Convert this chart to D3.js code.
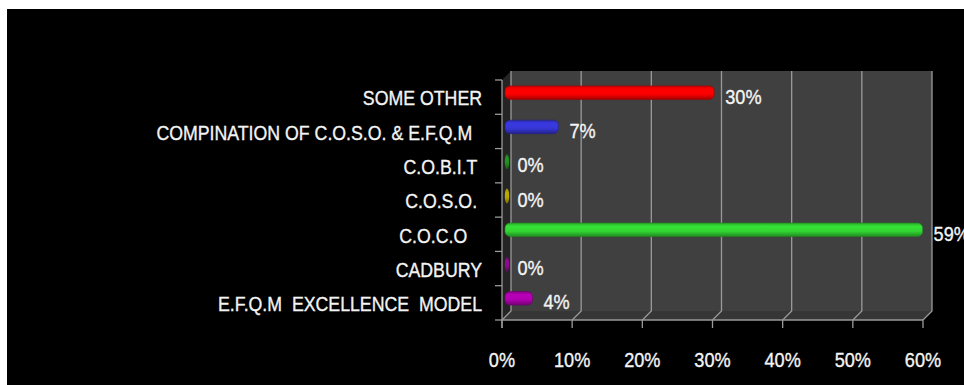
<!DOCTYPE html>
<html>
<head>
<meta charset="utf-8">
<script src="https://cdn.jsdelivr.net/npm/d3@7"></script>
<style>
  html, body { margin: 0; padding: 0; background: #fff; }
  svg { display: block; }
  text { font-family: "Liberation Sans", Arial, sans-serif; fill: #f4f4f4; stroke: #f4f4f4; stroke-width: 0.35px; white-space: pre; }
</style>
</head>
<body>
<svg id="chart" width="964" height="385"></svg>
<script>
// ---- data ----
const categories = [
  "SOME OTHER",
  "COMPINATION OF C.O.S.O. & E.F.Q.M  ",
  "C.O.B.I.T ",
  "C.O.S.O. ",
  "C.O.C.O   ",
  "CADBURY",
  "E.F.Q.M  EXCELLENCE  MODEL"
];
const values = [29.6, 7.4, 0, 0, 59.3, 0, 3.7];   // percent
const valueLabels = ["30%", "7%", "0%", "0%", "59%", "0%", "4%"];
const barColors = ["#ff0000", "#3636d8", "#1f8f1f", "#b5a300", "#33d633", "#8a0a8a", "#b000b0"];
const tickValues = [0, 10, 20, 30, 40, 50, 60];
const tickLabels = ["0%", "10%", "20%", "30%", "40%", "50%", "60%"];

// ---- layout ----
const W = 964, H = 385;
const NARROW = 0.865;
const svg = d3.select("#chart");
svg.append("rect").attr("x", 7).attr("y", 9).attr("width", W - 7).attr("height", H - 9).attr("fill", "#000");

const x = d3.scaleLinear().domain([0, 60]).range([502, 923]);
const y = d3.scaleBand().domain(categories).range([80, 320]).padding(0);
const DX = 9, DY = -9;           // depth offset of the back wall
const y0 = 80, y1 = 320;
const gridColor = "#9a9a9a";

function label(px, py, txt, size, anchor) {
  return svg.append("text")
    .attr("transform", `translate(${px},${py}) scale(${NARROW},1)`)
    .attr("text-anchor", anchor || "start")
    .attr("font-size", size)
    .text(txt);
}

// back wall
svg.append("rect")
  .attr("x", x(0) + DX).attr("y", y0 + DY)
  .attr("width", x(60) - x(0)).attr("height", y1 - y0)
  .attr("fill", "#404040");
// floor
svg.append("path")
  .attr("d", `M${x(0)},${y1}L${x(0) + DX},${y1 + DY}L${x(60) + DX},${y1 + DY}L${x(60)},${y1}Z`)
  .attr("fill", "#363636");
// left side wall
svg.append("path")
  .attr("d", `M${x(0)},${y0}L${x(0) + DX},${y0 + DY}L${x(0) + DX},${y1 + DY}L${x(0)},${y1}Z`)
  .attr("fill", "#242424");

// gridlines on wall + floor + ticks
const g = svg.append("g").attr("stroke", gridColor).attr("fill", "none").attr("stroke-width", 1.3);
tickValues.forEach(t => {
  const xb = x(t) + DX;
  g.append("path").attr("d", `M${xb},${y0 + DY}L${xb},${y1 + DY}L${x(t)},${y1}L${x(t)},${y1 + 8}`);
});
g.append("line").attr("x1", x(0)).attr("x2", x(60)).attr("y1", y1).attr("y2", y1);
g.append("line").attr("x1", x(0)).attr("x2", x(0)).attr("y1", y0).attr("y2", y1 + 8);
const bounds = categories.map(c => y(c)).concat([y1]);
bounds.forEach(b => {
  g.append("line").attr("x1", x(0) - 7).attr("x2", x(0)).attr("y1", b).attr("y2", b);
});

// gradients for bars
const defs = svg.append("defs");
barColors.forEach((c, i) => {
  const base = d3.color(c);
  const gr = defs.append("linearGradient").attr("id", "grad" + i)
    .attr("x1", 0).attr("x2", 0).attr("y1", 0).attr("y2", 1);
  gr.append("stop").attr("offset", "0%").attr("stop-color", base.darker(0.6));
  gr.append("stop").attr("offset", "25%").attr("stop-color", base.brighter(0.15));
  gr.append("stop").attr("offset", "60%").attr("stop-color", base);
  gr.append("stop").attr("offset", "100%").attr("stop-color", base.darker(1.2));
});

// bars at mid-depth
const mid = v => x(v) + DX / 2;
const barH = 13.5;
const bars = svg.append("g");
categories.forEach((c, i) => {
  const cy = y(c) + y.bandwidth() / 2 + DY / 2;
  const x0 = mid(0) - 1.5;
  const w = mid(values[i]) - x0;
  if (values[i] > 0) {
    bars.append("rect")
      .attr("x", x0).attr("y", cy - barH / 2)
      .attr("width", w).attr("height", barH)
      .attr("rx", 5).attr("ry", 5)
      .attr("fill", `url(#grad${i})`)
      .attr("stroke", d3.color(barColors[i]).darker(1.3)).attr("stroke-width", 0.6);
  } else {
    bars.append("ellipse")
      .attr("cx", x0 + 2).attr("cy", cy + 0.5)
      .attr("rx", 2.2).attr("ry", barH / 2 + 0.8)
      .attr("fill", `url(#grad${i})`);
  }
  label(mid(values[i]) + 11, y(c) + y.bandwidth() / 2 + 6.5, valueLabels[i], 21);
  label(482, y(c) + y.bandwidth() / 2 + 8.3, c, 20.5, "end");
});

// x tick labels
tickValues.forEach((t, i) => {
  label(x(t), 366.5, tickLabels[i], 21, "middle");
});
</script>
</body>
</html>
